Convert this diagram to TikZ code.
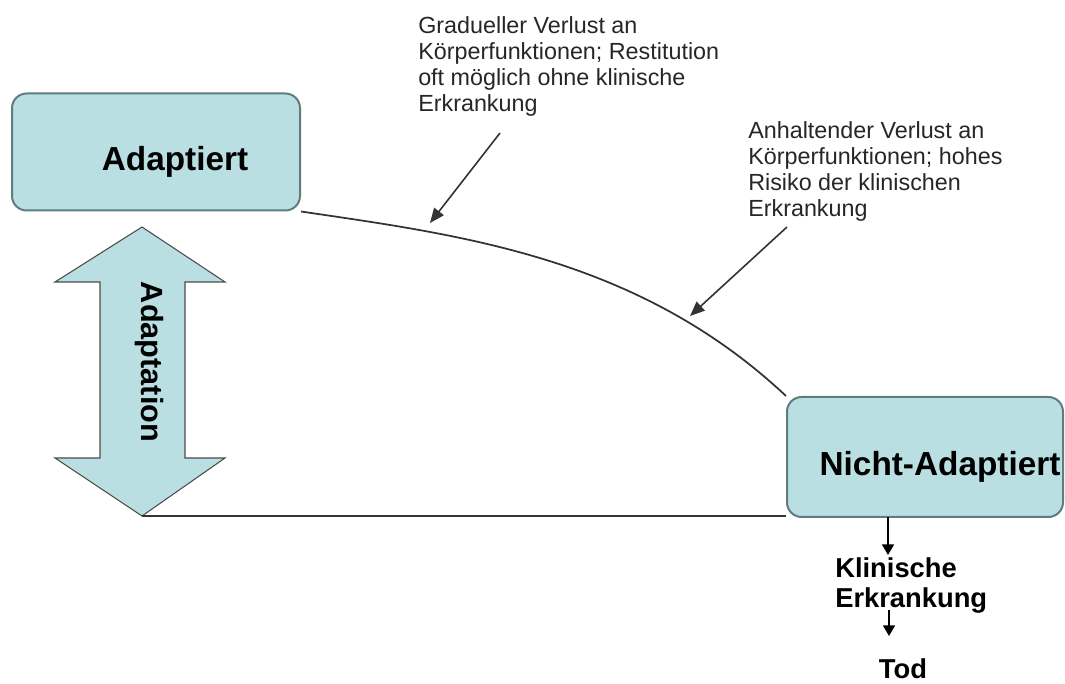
\documentclass[tikz,border=0pt]{standalone}
\usepackage{fontspec}
\setmainfont{Liberation Sans}
\usetikzlibrary{arrows.meta}

\definecolor{boxfill}{HTML}{B9DFE2}
\definecolor{boxline}{HTML}{5F7D7E}

\begin{document}
\begin{tikzpicture}[
  x=0.75pt, y=-0.75pt,
  statebox/.style={draw=boxline, line width=1.5pt, fill=boxfill,
    rounded corners=11pt, inner sep=0pt},
  boxlabel/.style={font=\bfseries\fontsize{25}{30}\selectfont, inner sep=0pt},
  note/.style={font=\fontsize{17.5}{19.5}\selectfont, align=left,
    inner sep=0pt, text=black!85},
  outcome/.style={font=\bfseries\fontsize{20.5}{22.5}\selectfont, align=left,
    inner sep=0pt},
  curve/.style={line width=1.3pt, draw=black!80},
  pointer/.style={-{Triangle[length=11pt,width=9pt]}, line width=1.2pt, draw=black!80},
  downstep/.style={-{Triangle[length=8pt,width=9pt]}, line width=1.1pt},
]
  \useasboundingbox (0,0) rectangle (1065,684);

  % 两个状态框
  \node[statebox, minimum width=216pt, minimum height=87.75pt] (adapt) at (156,152) {};
  \node[boxlabel, anchor=base] (adaptlbl) at (175,171) {Adaptiert};
  \node[statebox, minimum width=207pt, minimum height=90pt] (nicht) at (925,457) {};
  \node[boxlabel, anchor=base] (nichtlbl) at (940,475) {Nicht-Adaptiert};

  % 双向箭头
  \draw[draw=black!70, line width=0.8pt, fill=boxfill]
    (142,227) -- (225,282) -- (185,282) -- (185,458) -- (225,458)
    -- (142,516) -- (55,458) -- (100,458) -- (100,282) -- (55,282) -- cycle;
  \coordinate (adtip) at (142,516);
  \node[boxlabel, font=\bfseries\fontsize{23}{28}\selectfont, anchor=base, rotate=-90]
    (adaptation) at (141,362) {Adaptation};

  % 曲线与底线
  \draw[curve] (adapt.south east) .. controls (460,235) and (638,257) .. (nicht.north west);
  \draw[curve] (adtip) -- (adtip -| nicht.west);

  % 说明文字
  \node[note, anchor=north west] (noteA) at (418,16)
    {Gradueller Verlust an\\Körperfunktionen; Restitution\\oft möglich ohne klinische\\Erkrankung};
  \node[note, anchor=north west] (noteB) at (748,121)
    {Anhaltender Verlust an\\Körperfunktionen; hohes\\Risiko der klinischen\\Erkrankung};
  \coordinate (fromA) at (500,133);
  \coordinate (toA) at (430,223);
  \coordinate (fromB) at (787,227);
  \coordinate (toB) at (690,316);
  \draw[pointer] (fromA) -- (toA);
  \draw[pointer] (fromB) -- (toB);

  % 结局
  \node[outcome, anchor=north west] (klin) at (835,557) {Klinische\\Erkrankung};
  \node[outcome, anchor=base] (tod) at (903,678) {Tod};
  \coordinate (k1) at (888,517);
  \coordinate (k2) at (888,555);
  \coordinate (t1) at (889,610);
  \coordinate (t2) at (889,636);
  \draw[downstep] (k1) -- (k2);
  \draw[downstep] (t1) -- (t2);
\end{tikzpicture}
\end{document}
